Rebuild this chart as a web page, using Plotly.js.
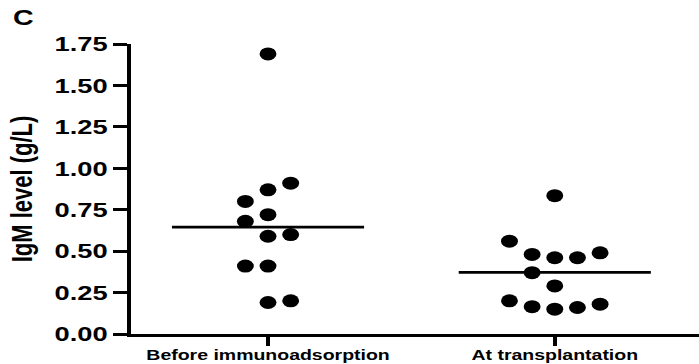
<!DOCTYPE html>
<html>
<head>
<meta charset="utf-8">
<script src="https://cdn.plot.ly/plotly-3.0.1.min.js"></script>
<style>
  html, body { margin: 0; padding: 0; overflow: hidden; background: #fff; }
  #wrap { width: 699px; height: 364px; overflow: hidden; }
  #chart { width: 538px; height: 364px; transform: scaleX(1.2993); transform-origin: 0 0; }
</style>
</head>
<body>
<div id="wrap"><div id="chart"></div></div>
<script>
// ---- data ----
const categories = ['Before immunoadsorption', 'At transplantation'];
const categoryIndex = [0, 1];
const beforeValues  = [1.69, 0.91, 0.87, 0.80, 0.72, 0.68, 0.59, 0.60, 0.41, 0.41, 0.19, 0.20];
const beforeColumns = [0,    1,    0,    -1,   0,    -1,   0,    1,    -1,   0,    0,    1];
const atValues  = [0.835, 0.56, 0.48, 0.46, 0.46, 0.49, 0.37, 0.29, 0.20, 0.165, 0.15, 0.16, 0.18];
const atColumns = [0,     -2,   -1,   0,    1,    2,    -1,   0,    -2,   -1,    0,    1,    2];
const means = [0.645, 0.372];
const yTicks = [0, 0.25, 0.5, 0.75, 1.0, 1.25, 1.5, 1.75];
const yTickText = ['0.00', '0.25', '0.50', '0.75', '1.00', '1.25', '1.50', '1.75'];

// ---- styling constants ----
const colStep = 0.079;
const meanHalfWidth = 0.335;
const FONT = 'Liberation Sans, Arial, Helvetica, sans-serif';

function groupTrace(idx, vals, cols) {
  return {
    type: 'scatter', mode: 'markers',
    x: cols.map(c => categoryIndex[idx] + c * colStep),
    y: vals,
    marker: { color: '#000', size: 13, line: { width: 0 } },
    hoverinfo: 'y', showlegend: false
  };
}
const meanTraces = means.map((m, i) => ({
  type: 'scatter', mode: 'lines',
  x: [categoryIndex[i] - meanHalfWidth, categoryIndex[i] + meanHalfWidth],
  y: [m, m],
  line: { color: '#000', width: 2.6 },
  hoverinfo: 'skip', showlegend: false
}));

const data = [
  ...meanTraces,
  groupTrace(0, beforeValues, beforeColumns),
  groupTrace(1, atValues, atColumns)
];

const layout = {
  width: 538, height: 364,
  margin: { l: 101, r: 0, t: 44, b: 30, pad: 0 },
  paper_bgcolor: '#fff', plot_bgcolor: '#fff',
  font: { family: FONT, color: '#000' },
  xaxis: {
    range: [-0.477, 1.503],
    tickvals: categoryIndex, ticktext: categories,
    showgrid: false, zeroline: false,
    showline: true, linecolor: '#000', linewidth: 3,
    ticks: 'outside', ticklen: 9, tickwidth: 3, tickcolor: '#000',
    ticklabelstandoff: -4,
    tickfont: { family: FONT, size: 15, weight: 'bold', color: '#000' },
    fixedrange: true
  },
  yaxis: {
    range: [0, 1.75],
    tickvals: yTicks, ticktext: yTickText,
    showgrid: false, zeroline: false,
    showline: true, linecolor: '#000', linewidth: 3,
    ticks: 'outside', ticklen: 11, tickwidth: 3, tickcolor: '#000',
    tickfont: { family: FONT, size: 21, weight: 'bold', color: '#000' },
    title: { text: 'IgM level (g/L)', font: { family: FONT, size: 22, weight: 'bold', color: '#000' }, standoff: 11 },
    fixedrange: true
  },
  annotations: [{
    text: 'C', xref: 'paper', yref: 'paper', x: -0.212, y: 1.093,
    xanchor: 'left', yanchor: 'middle', showarrow: false,
    font: { family: FONT, size: 22, weight: 'bold', color: '#000' }
  }]
};

Plotly.newPlot('chart', data, layout, { displayModeBar: false, staticPlot: true });
</script>
</body>
</html>
